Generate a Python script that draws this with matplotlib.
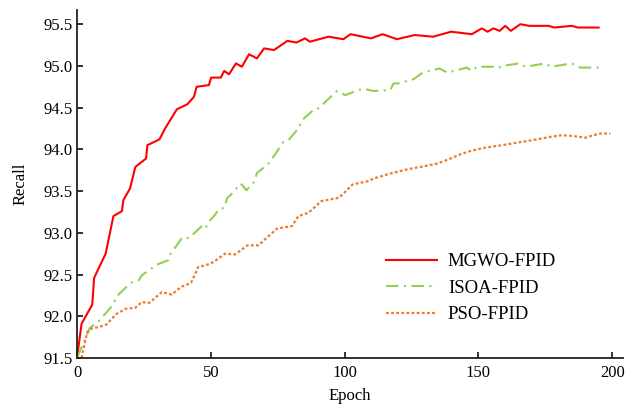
import matplotlib
matplotlib.use("Agg")
import matplotlib.pyplot as plt

# MGWO-FPID
mgwo_x = [0, 1.7, 5.7, 6.4, 10.7, 13.6, 16.8, 17.3, 19.8, 21.8, 25.8, 26.3, 30.8, 32.9,
          37.3, 41.2, 43.7, 44.7, 49.3, 50.1, 53.7, 55, 56.8, 59.4, 61.6, 64.3, 67.2,
          69.9, 73.6, 78.6, 82, 85.2, 87, 94, 99.5, 102.2, 109.8, 114.2, 119.5, 126.2,
          133, 139.8, 147.5, 151.3, 153.4, 155.6, 157.9, 160, 162.1, 165.6, 169, 176.2,
          178.3, 184.9, 187.1, 194.9]
mgwo_y = [91.5, 91.91, 92.14, 92.46, 92.75, 93.20, 93.26, 93.39, 93.53, 93.79, 93.89,
          94.05, 94.12, 94.25, 94.48, 94.54, 94.63, 94.75, 94.77, 94.86, 94.86, 94.94,
          94.90, 95.03, 94.99, 95.14, 95.09, 95.21, 95.19, 95.30, 95.28, 95.33, 95.29,
          95.35, 95.32, 95.38, 95.33, 95.38, 95.32, 95.37, 95.35, 95.41, 95.38, 95.45,
          95.41, 95.45, 95.42, 95.48, 95.42, 95.50, 95.48, 95.48, 95.46, 95.48, 95.46,
          95.46]

# ISOA-FPID
isoa_x = [0, 4.8, 8.1, 13, 15.2, 20, 23, 24.2, 29.9, 34.1, 34.8, 38.4, 39.1, 42, 46.6,
          47.9, 49.7, 51.7, 52.8, 55, 56.2, 57.3, 61.2, 63.3, 66.1, 67.3, 71.3, 74, 77.1,
          79, 82.7, 84.4, 89, 90.2, 97.1, 100.2, 106.8, 110.5, 117, 118.3, 120.1, 125.7,
          129.2, 135.4, 138.4, 145.7, 147.5, 149.4, 155.4, 157.1, 158.8, 165.3, 167.5,
          175, 177.1, 184.9, 188, 195.8]
isoa_y = [91.5, 91.86, 91.94, 92.12, 92.25, 92.40, 92.43, 92.49, 92.62, 92.67, 92.74,
          92.90, 92.94, 92.94, 93.08, 93.05, 93.15, 93.22, 93.28, 93.30, 93.42, 93.45,
          93.59, 93.51, 93.61, 93.72, 93.82, 93.94, 94.09, 94.11, 94.25, 94.36, 94.49,
          94.49, 94.70, 94.65, 94.73, 94.70, 94.71, 94.79, 94.79, 94.84, 94.92, 94.97,
          94.92, 94.98, 94.94, 94.99, 94.99, 94.97, 95.00, 95.03, 94.99, 95.03, 94.99,
          95.03, 94.98, 94.98]

# PSO-FPID
pso_x = [1.7, 3.8, 5.1, 8, 10.9, 14.8, 18.2, 21.7, 24.2, 27, 31.7, 35.4, 38.8, 42.6,
         45.3, 48.8, 51, 55.3, 59, 63.7, 67.8, 71.2, 74.7, 80.3, 82.7, 86.5, 91.3, 97.9,
         103, 108.9, 110.8, 117, 123.3, 130.1, 134.5, 138.8, 143.2, 146.9, 152.5, 158.8,
         164.4, 171.9, 176.8, 181.2, 185.5, 189.9, 193, 195.5, 199.3]
pso_y = [91.5, 91.81, 91.85, 91.87, 91.90, 92.03, 92.09, 92.10, 92.17, 92.16, 92.29,
         92.26, 92.35, 92.40, 92.59, 92.62, 92.65, 92.75, 92.74, 92.85, 92.85, 92.95,
         93.05, 93.08, 93.20, 93.24, 93.38, 93.42, 93.58, 93.62, 93.65, 93.71, 93.76,
         93.80, 93.83, 93.88, 93.94, 93.98, 94.02, 94.05, 94.08, 94.12, 94.15, 94.17,
         94.16, 94.14, 94.17, 94.19, 94.19]

x_ticks = [0, 50, 100, 150, 200]
y_ticks = [91.5, 92.0, 92.5, 93.0, 93.5, 94.0, 94.5, 95.0, 95.5]

plt.rcParams['font.family'] = ['Liberation Serif', 'DejaVu Serif']

fig = plt.figure(figsize=(6.29, 4.04), dpi=100)
ax = fig.add_axes([77/629, 46/404, 546/629, 348/404])

ax.plot(mgwo_x, mgwo_y, color='#FF0000', lw=1.5, label='MGWO-FPID')
ax.plot(isoa_x, isoa_y, color='#92D050', lw=1.5, dashes=(6.0, 2.6, 1.0, 2.6), label='ISOA-FPID')
ax.plot(pso_x, pso_y, color='#ED7D31', lw=1.6, dashes=(1.3, 1.0), label='PSO-FPID')

ax.set_xlim(0, 204)
ax.set_ylim(91.5, 95.67)
ax.set_xticks(x_ticks)
ax.set_yticks(y_ticks)
ax.set_yticklabels([f"{v:.1f}" for v in y_ticks])

for s in ['top', 'right']:
    ax.spines[s].set_visible(False)
for s in ['left', 'bottom']:
    ax.spines[s].set_linewidth(1.3)
    ax.spines[s].set_color('#222222')

ax.tick_params(direction='in', length=4.5, width=1.3, labelsize=12, color='#222222')
ax.tick_params(axis='y', pad=3)
ax.tick_params(axis='x', pad=5)

ax.set_xlabel('Epoch', fontsize=12, labelpad=5)
ax.set_ylabel('Recall', fontsize=12, labelpad=11)

leg = ax.legend(loc='center left', bbox_to_anchor=((386-77)/546, (358-288)/348),
                frameon=False, fontsize=13.5, borderpad=0, borderaxespad=0,
                handlelength=2.7, handletextpad=0.6, labelspacing=0.5)

fig.savefig('out.png', dpi=100)
